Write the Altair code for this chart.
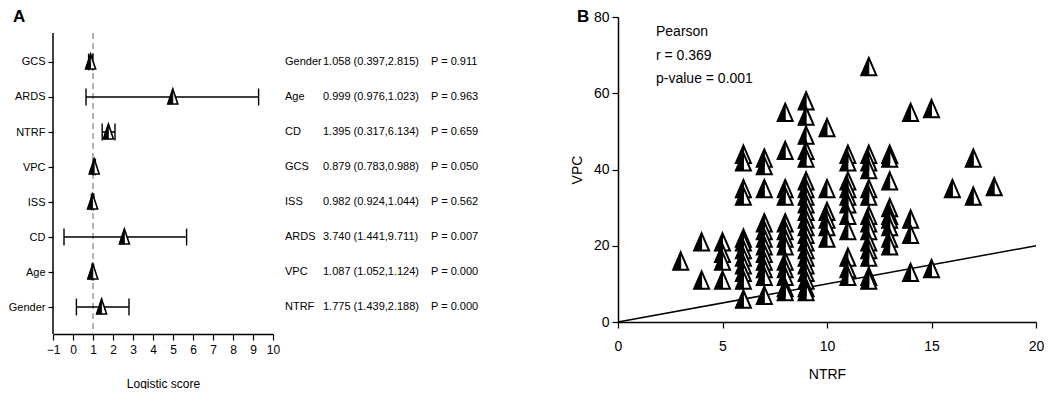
import altair as alt
import pandas as pd

# ---------------- Panel A: forest plot ----------------
forest_vars = ["GCS", "ARDS", "NTRF", "VPC", "ISS", "CD", "Age", "Gender"]
forest_est = [0.88, 4.99, 1.77, 1.06, 0.98, 2.57, 0.99, 1.43]
forest_lo = [0.78, 0.65, 1.46, 1.01, 0.92, -0.45, 0.95, 0.17]
forest_hi = [0.99, 9.28, 2.10, 1.12, 1.04, 5.68, 1.03, 2.80]
forest_ticks = [-1, 0, 1, 2, 3, 4, 5, 6, 7, 8, 9, 10]
ref_value = [1]

# table next to forest plot
table_vars = ["Gender", "Age", "CD", "GCS", "ISS", "ARDS", "VPC", "NTRF"]
table_or = [1.058, 0.999, 1.395, 0.879, 0.982, 3.740, 1.087, 1.775]
table_lo = [0.397, 0.976, 0.317, 0.783, 0.924, 1.441, 1.052, 1.439]
table_hi = [2.815, 1.023, 6.134, 0.988, 1.044, 9.711, 1.124, 2.188]
table_p = [0.911, 0.963, 0.659, 0.050, 0.562, 0.007, 0.000, 0.000]

# ---------------- Panel B: scatter ----------------
ntrf = ([3] +
        [4] * 2 +
        [5] * 4 +
        [6] * 12 +
        [7] * 12 +
        [8] * 13 +
        [9] * 21 +
        [10] * 6 +
        [11] * 11 +
        [12] * 14 +
        [13] * 9 +
        [14] * 4 +
        [15] * 2 +
        [16] +
        [17] * 2 +
        [18])
vpc = ([16] +
       [21, 11] +
       [21, 18, 16, 11] +
       [44, 42, 35, 33, 22, 21, 19, 17, 15, 13, 11, 6] +
       [43, 41, 35, 26, 24, 22, 20, 18, 16, 14, 12, 7] +
       [55, 45, 35, 33, 26, 24, 22, 20, 16, 14, 12, 9, 8] +
       [58, 54, 49, 45, 43, 37, 35, 33, 31, 29, 27, 25, 23, 21, 19, 17, 15, 13, 11, 9, 8] +
       [51, 35, 29, 27, 25, 22] +
       [44, 42, 37, 35, 33, 31, 28, 24, 17, 14, 12] +
       [67, 44, 42, 40, 35, 33, 28, 26, 24, 21, 19, 17, 12, 11] +
       [44, 43, 37, 30, 28, 27, 25, 22, 20] +
       [55, 27, 23, 13] +
       [56, 14] +
       [35] +
       [43, 33] +
       [35.5])
fit_x = [0, 20]
fit_y = [0, 20]
stats_lines = ["Pearson", "r = 0.369", "p-value = 0.001"]

NARROW = "Liberation Sans, Arial, sans-serif"
REG = "Liberation Sans, Arial, Helvetica, sans-serif"
NOVIEW = alt.ViewBackground(stroke="transparent", strokeWidth=0)

n = len(forest_vars)
forest_df = pd.DataFrame({"var": forest_vars, "row": list(range(n)),
                          "est": forest_est, "lo": forest_lo, "hi": forest_hi})
label_expr = "[" + ",".join("'%s'" % v for v in forest_vars) + "][datum.value]"

ROW_DOM = [-1.2857, 7.7714]
yscale = alt.Scale(domain=ROW_DOM, reverse=True, nice=False, zero=False)
fx_scale = alt.Scale(domain=[forest_ticks[0], forest_ticks[-1]], nice=False, zero=False)

FH = 317
FW = 220

fy_axis = alt.Axis(values=list(range(n)), labelExpr=label_expr, title=None, domain=False,
                   grid=False, ticks=True, tickSize=5, tickColor="black", tickWidth=1.2,
                   labelFont=NARROW, labelFontSize=11, labelColor="black", labelPadding=3)
fx_axis = alt.Axis(values=forest_ticks, title="Logistic score", grid=False, tickSize=6,
                   tickColor="black", domainColor="black", domainWidth=1.5, tickWidth=1.2,
                   labelFont=NARROW, labelFontSize=12, labelColor="black", labelPadding=4,
                   labelOverlap=False, tickCount=len(forest_ticks),
                   titleFont=NARROW, titleFontSize=12, titleFontWeight="normal",
                   titleColor="black", titlePadding=23, labelFlush=False)


def fx(field):
    return alt.X(field, scale=fx_scale, axis=fx_axis, title="Logistic score")


def fy(field):
    return alt.Y(field, scale=yscale, axis=fy_axis, title=None)


base = alt.Chart(forest_df)

yaxis_line = alt.Chart(pd.DataFrame({"x": [forest_ticks[0]], "y0": [-0.83], "y1": [ROW_DOM[1]]})).mark_rule(
    color="black", strokeWidth=1.5).encode(x=fx("x:Q"), y=fy("y0:Q"), y2="y1:Q")

ref_line = alt.Chart(pd.DataFrame({"x": ref_value, "y0": [-0.83], "y1": [ROW_DOM[1]]})).mark_rule(
    color="#9a9a9a", strokeWidth=1.5, strokeDash=[6, 4]).encode(x=fx("x:Q"), y=fy("y0:Q"), y2="y1:Q")

whisk = base.mark_rule(color="black", strokeWidth=1.6).encode(x=fx("lo:Q"), x2="hi:Q", y=fy("row:Q"))

caps_lo = base.transform_calculate(a="datum.row - 0.24", b="datum.row + 0.24").mark_rule(
    color="black", strokeWidth=1.4).encode(x=fx("lo:Q"), y=fy("a:Q"), y2="b:Q")
caps_hi = base.transform_calculate(a="datum.row - 0.24", b="datum.row + 0.24").mark_rule(
    color="black", strokeWidth=1.4).encode(x=fx("hi:Q"), y=fy("a:Q"), y2="b:Q")

TRI_F = "M0,-1.6L1,1.4L-1,1.4Z"
HALF_F = "M0,-1.6L0,1.4L-1,1.4Z"
f_tri = base.mark_point(shape=TRI_F, size=100, filled=True, fill="white", stroke="black",
                        strokeWidth=1.6, opacity=1).encode(x=fx("est:Q"), y=fy("row:Q"))
f_half = base.mark_point(shape=HALF_F, size=100, filled=True, fill="black", stroke="black",
                         strokeWidth=0.8, opacity=1).encode(x=fx("est:Q"), y=fy("row:Q"))

letter_a = alt.Chart(pd.DataFrame({"t": ["A"]})).mark_text(
    font=REG, fontSize=17, fontWeight="bold", align="left", baseline="alphabetic", color="black").encode(
    x=alt.value(-40), y=alt.value(5), text="t:N")

forest = alt.layer(yaxis_line, ref_line, whisk, caps_lo, caps_hi, f_tri, f_half, letter_a).properties(
    width=FW, height=FH, view=NOVIEW)

# ---------------- table ----------------
table_df = pd.DataFrame({
    "row": list(range(len(table_vars))),
    "var": table_vars,
    "est": ["%.3f (%.3f,%.3f)" % (o, l, h) for o, l, h in zip(table_or, table_lo, table_hi)],
    "p": ["P = %.3f" % p for p in table_p],
})
tbase = alt.Chart(table_df)
tkw = dict(font=NARROW, fontSize=11, align="left", baseline="middle", color="black")
ty = alt.Y("row:Q", scale=yscale, axis=None)
t1 = tbase.mark_text(**tkw).encode(x=alt.value(-2), y=ty, text="var:N")
t2 = tbase.mark_text(**tkw).encode(x=alt.value(36), y=ty, text="est:N")
t3 = tbase.mark_text(**tkw).encode(x=alt.value(144), y=ty, text="p:N")
table = alt.layer(t1, t2, t3).properties(width=278, height=FH, view=NOVIEW)

# ---------------- scatter ----------------
sc_df = pd.DataFrame({"ntrf": ntrf, "vpc": vpc})
sx = alt.Scale(domain=[0, 20], nice=False, zero=False)
sy = alt.Scale(domain=[0, 80], nice=False, zero=False)
sx_axis = alt.Axis(values=[0, 5, 10, 15, 20], title="NTRF", grid=False, tickSize=6,
                   tickColor="black", domainColor="black", domainWidth=1.5, tickWidth=1.2,
                   labelFont=REG, labelFontSize=14, labelColor="black", labelPadding=11,
                   titleFont=REG, titleFontSize=14, titleFontWeight="normal", titleColor="black",
                   titlePadding=14, labelFlush=False)
sy_axis = alt.Axis(values=[0, 20, 40, 60, 80], title="VPC", grid=False, tickSize=6,
                   tickColor="black", domainColor="black", domainWidth=1.5, tickWidth=1.2,
                   labelFont=REG, labelFontSize=14, labelColor="black", labelPadding=3,
                   titleFont=REG, titleFontSize=14, titleFontWeight="normal", titleColor="black",
                   titlePadding=9, labelFlush=False)


def sxe(field):
    return alt.X(field, scale=sx, axis=sx_axis, title="NTRF")


def sye(field):
    return alt.Y(field, scale=sy, axis=sy_axis, title="VPC")


sbase = alt.Chart(sc_df)
TRI_S = "M0,-1.15L1,1.15L-1,1.15Z"
HALF_S = "M0,-1.15L0,1.15L-1,1.15Z"
s_tri = sbase.mark_point(shape=TRI_S, size=225, filled=True, fill="white", stroke="black",
                         strokeWidth=2, opacity=1).encode(x=sxe("ntrf:Q"), y=sye("vpc:Q"))
s_half = sbase.mark_point(shape=HALF_S, size=225, filled=True, fill="black", stroke="black",
                          strokeWidth=1, opacity=1).encode(x=sxe("ntrf:Q"), y=sye("vpc:Q"))
fit = alt.Chart(pd.DataFrame({"x": fit_x, "y": fit_y})).mark_line(color="black", strokeWidth=1.5).encode(
    x=sxe("x:Q"), y=sye("y:Q"))
stats = alt.Chart(pd.DataFrame({"k": [0]})).mark_text(
    font=REG, fontSize=14, align="left", baseline="top", lineHeight=23.5, color="black").encode(
    x=alt.value(38), y=alt.value(8), text=alt.value(stats_lines))
letter_b = alt.Chart(pd.DataFrame({"t": ["B"]})).mark_text(
    font=REG, fontSize=17, fontWeight="bold", align="left", baseline="alphabetic", color="black").encode(
    x=alt.value(-41), y=alt.value(5), text="t:N")

scatter = alt.layer(fit, s_tri, s_half, stats, letter_b).properties(width=418, height=305, view=NOVIEW)

chart = alt.hconcat(forest, table, scatter, spacing=5).properties(padding=0).configure_view(
    strokeWidth=0, stroke="transparent").configure(font=REG)

chart.save("out.html", embed_options={"renderer": "svg", "actions": False})
